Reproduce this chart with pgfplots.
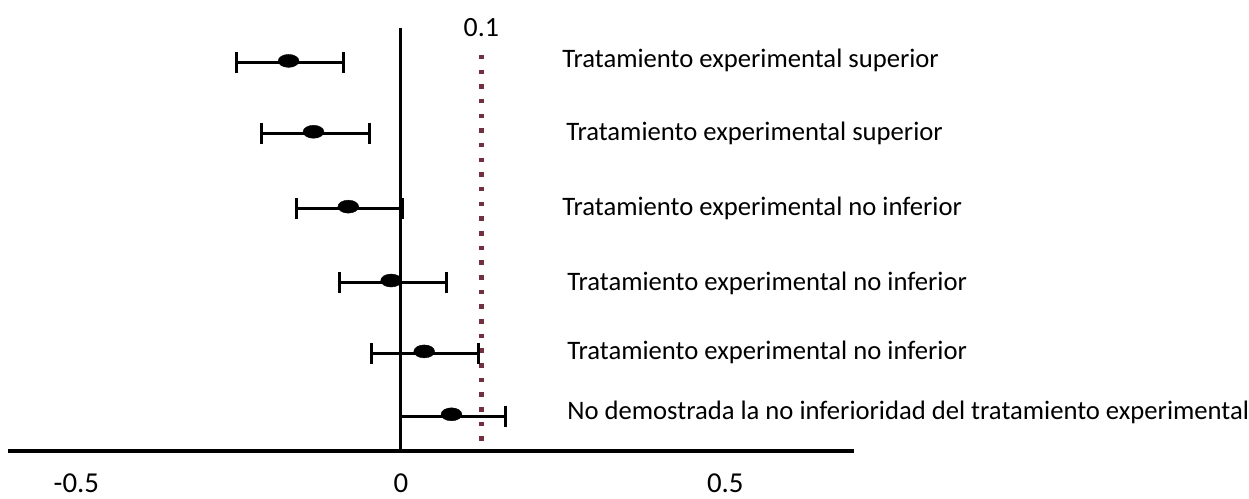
\documentclass[border=0pt]{standalone}
\usepackage{pgfplots}
\pgfplotsset{compat=1.18}
\usepackage{pgfplotstable}
\usepackage{fontspec}
\setmainfont{Carlito}
\definecolor{maroon}{RGB}{112,48,64}
\pgfplotstableread{
x y ep em
-0.173 436 0.0845 0.0805
-0.1346 365 0.0861 0.0800
-0.081 290 0.083 0.080
-0.015 216 0.085 0.080
0.036 145 0.083 0.081
0.078 82 0.084 0.078
}\cis
\begin{document}
\begin{tikzpicture}
\begin{axis}[
  x=650bp, y=1bp,
  xmin=-0.606, xmax=0.699, ymin=47, ymax=471,
  axis x line*=bottom, axis y line*=middle,
  hide obscured x ticks=false,
  x axis line style={line width=4bp},
  y axis line style={line width=3bp},
  xtick={-0.5,0,0.5}, xticklabels={-0.5,0,0.5},
  ytick=\empty,
  major tick length=0,
  xticklabel style={anchor=base, yshift=-41bp, font=\fontsize{29}{32}\selectfont},
  clip=false,
]
\path (axis cs:-0.6177,0) rectangle (axis cs:1.3038,499);
\addplot[color=maroon, line width=5bp, dash pattern=on 4.5bp off 10.2bp]
  coordinates {(0.124,444) (0.124,48)};
\addplot[black, only marks, mark=*, mark size=6.5bp,
  mark options={fill=black, draw=black, xscale=1.6, yshift=2bp},
  error bars/.cd, x dir=both, x explicit,
  error mark=|,
  error bar style={line width=3bp, black},
  error mark options={mark size=10.5bp, line width=3bp, black}]
  table[x=x, y=y, x error plus=ep, x error minus=em] {\cis};
\node[anchor=base, inner sep=0, font=\fontsize{28}{30}\selectfont] at (axis cs:0.124,462) {0.1};
\node[anchor=base west, inner sep=0, font=\fontsize{26.8}{30}\selectfont] at (axis cs:0.2485,431) {Tratamiento experimental superior};
\node[anchor=base west, inner sep=0, font=\fontsize{26.8}{30}\selectfont] at (axis cs:0.2546,358) {Tratamiento experimental superior};
\node[anchor=base west, inner sep=0, font=\fontsize{26.8}{30}\selectfont] at (axis cs:0.2485,283) {Tratamiento experimental no inferior};
\node[anchor=base west, inner sep=0, font=\fontsize{26.8}{30}\selectfont] at (axis cs:0.2562,208) {Tratamiento experimental no inferior};
\node[anchor=base west, inner sep=0, font=\fontsize{26.8}{30}\selectfont] at (axis cs:0.2562,139) {Tratamiento experimental no inferior};
\node[anchor=base west, inner sep=0, font=\fontsize{26.8}{30}\selectfont] at (axis cs:0.2562,79) {No demostrada la no inferioridad del tratamiento experimental};
\end{axis}
\end{tikzpicture}
\end{document}
